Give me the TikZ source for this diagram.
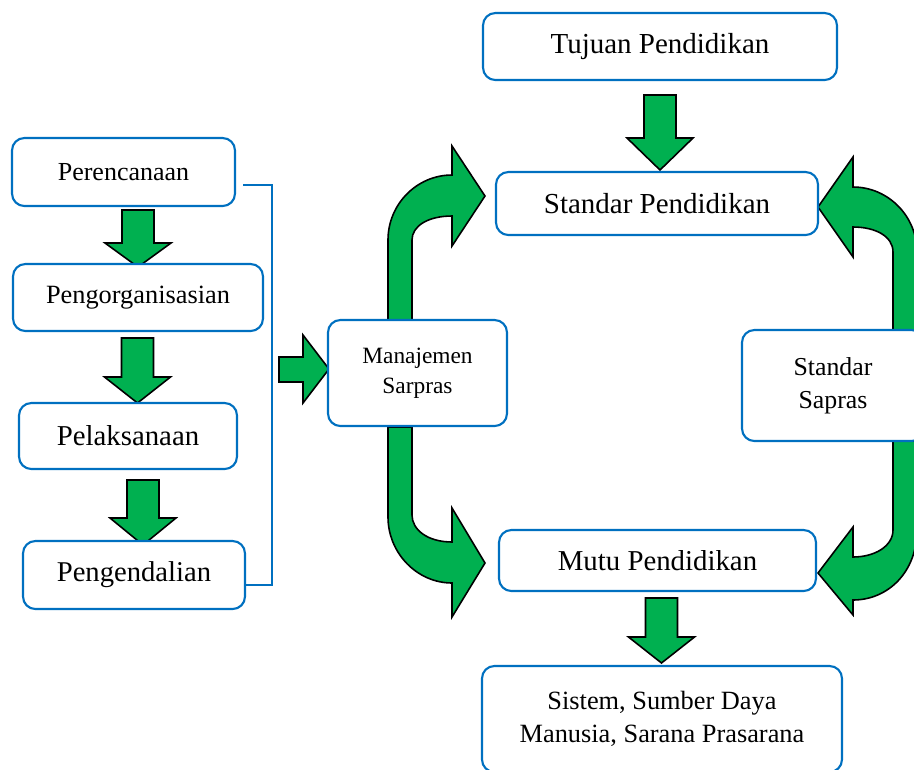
\documentclass[tikz,border=0pt]{standalone}
\usepackage{fontspec}
\setmainfont{Liberation Serif}
\usepackage{tikz}
\usetikzlibrary{calc}
\definecolor{biruGaris}{HTML}{0070C0}
\definecolor{hijauPanah}{HTML}{00B050}

\begin{document}
\begin{tikzpicture}[x=0.02cm, y=-0.02cm,
  kotak/.style={draw=biruGaris, line width=1.2pt, rounded corners=7pt, fill=white, align=center, inner sep=0pt},
  panah/.style={draw=black, fill=hijauPanah, line width=0.9pt, line join=miter},
  garis/.style={draw=biruGaris, line width=0.8pt}]
\path[use as bounding box, clip] (0,0) rectangle (914,769);

% straight block arrows: centre x / top / shoulder / tip
\foreach \cx/\ya/\yb/\yc in {138/210/243/267, 137.5/338/377/403, 143/480/518/545, 660/95/138/170, 661.5/598/637/663}{
  \draw[panah] (\cx-16,\ya) -- (\cx+16,\ya) -- (\cx+16,\yb) -- (\cx+33,\yb) -- (\cx,\yc) -- (\cx-33,\yb) -- (\cx-16,\yb) -- cycle;
}
% arrow into Manajemen Sarpras
\draw[panah] (279,357) -- (303,357) -- (303,335) -- (329,369) -- (303,403) -- (303,382) -- (279,382) -- cycle;

% curved arrows, left side
\draw[panah] (388,321) -- (388,240) .. controls (388,204) and (417,175) .. (452,175) -- (452,146) -- (485,196) -- (452,246) -- (452,216)
  .. controls (428,216) and (412,226) .. (412,240) -- (412,321) -- cycle;
\draw[panah] (388,427) -- (388,517) .. controls (388,553) and (417,583) .. (452,583) -- (452,617) -- (485,563) -- (452,508) -- (452,542)
  .. controls (428,542) and (412,530) .. (412,515) -- (412,427) -- cycle;
% curved arrows, right side
\draw[panah] (893,331) -- (893,252) .. controls (893,236) and (875,227) .. (853,227) -- (853,257) -- (818,207) -- (853,157) -- (853,187)
  .. controls (888,187) and (917,216) .. (917,252) -- (917,331) -- cycle;
\draw[panah] (893,441) -- (893,530) .. controls (893,546) and (875,557) .. (853,557) -- (853,527) -- (818,573) -- (853,615) -- (853,600)
  .. controls (888,600) and (917,572) .. (917,530) -- (917,441) -- cycle;

% left column
\node[kotak, minimum width=4.46cm, minimum height=1.36cm, font=\fontsize{14.8}{17}\selectfont] (perenc) at (123.5,172) {Perencanaan};
\node[kotak, minimum width=5.0cm, minimum height=1.34cm, font=\fontsize{15}{17}\selectfont] (pengorg) at (138,297.5) {Pengorganisasian};
\node[kotak, minimum width=4.36cm, minimum height=1.32cm, font=\fontsize{16.4}{19}\selectfont] (pelaks) at (128,436) {Pelaksanaan};
\node[kotak, minimum width=4.44cm, minimum height=1.36cm, font=\fontsize{16.3}{19}\selectfont] (pengend) at (134,575) {Pengendalian};

% bracket round the left column
\coordinate (kurungAtas) at (243,185);
\coordinate (kurungBawah) at (245,585);
\draw[garis] (kurungAtas) -- ++(29,0) |- (kurungBawah);

% middle and right
\node[kotak, minimum width=3.58cm, minimum height=2.12cm, font=\fontsize{13.3}{17}\selectfont] (manaj) at (417.5,373) {Manajemen\\Sarpras};
\node[kotak, minimum width=7.08cm, minimum height=1.34cm, font=\fontsize{16.5}{19}\selectfont] (tujuan) at (660,46.5) {Tujuan Pendidikan};
\node[kotak, minimum width=6.44cm, minimum height=1.26cm, font=\fontsize{16.5}{19}\selectfont] (stdpend) at (657,203.5) {Standar Pendidikan};
\node[kotak, minimum width=3.64cm, minimum height=2.22cm, font=\fontsize{14.7}{18.7}\selectfont] (stdsapras) at (833,385.5) {Standar\\Sapras};
\node[kotak, minimum width=6.34cm, minimum height=1.22cm, font=\fontsize{16.4}{19}\selectfont] (mutu) at (657.5,560.5) {Mutu Pendidikan};
\node[kotak, minimum width=7.2cm, minimum height=2.12cm, font=\fontsize{15}{18.7}\selectfont] (sistem) at (662,719) {Sistem, Sumber Daya\\Manusia, Sarana Prasarana};
\end{tikzpicture}
\end{document}
